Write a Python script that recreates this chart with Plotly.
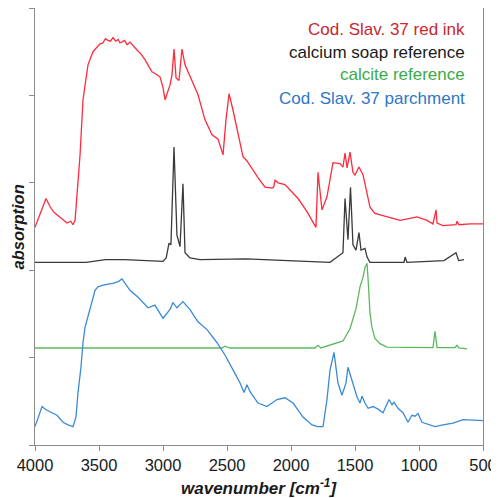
import plotly.graph_objects as go

# ---- data (wavenumber in cm-1, absorption in offset arbitrary units) ----
red_wn = [4000, 3914, 3880, 3850, 3800, 3750, 3720, 3703, 3687, 3648, 3625, 3586, 3547, 3520, 3492,
          3470, 3450, 3430, 3410, 3391, 3370, 3350, 3336, 3300, 3280, 3258, 3230, 3203, 3170, 3141,
          3110, 3086, 3050, 3023, 3000, 2984, 2945, 2930, 2914, 2898, 2875, 2852, 2828, 2789, 2727,
          2672, 2617, 2570, 2531, 2508, 2484, 2453, 2414, 2375, 2344, 2300, 2258, 2203, 2148, 2135,
          2125, 2100, 2047, 1945, 1875, 1805, 1789, 1758, 1719, 1672, 1617, 1594, 1578, 1562, 1539,
          1516, 1500, 1469, 1437, 1406, 1383, 1344, 1250, 1148, 1016, 937, 891, 867, 859, 812,
          711, 703, 688, 600, 500]
red_abs = [2.49, 2.82, 2.72, 2.66, 2.60, 2.54, 2.56, 2.52, 2.57, 3.32, 3.95, 4.35, 4.50, 4.55, 4.59,
           4.60, 4.65, 4.63, 4.62, 4.66, 4.62, 4.64, 4.60, 4.63, 4.58, 4.61, 4.57, 4.52, 4.47, 4.41,
           4.33, 4.27, 4.24, 4.21, 4.09, 3.95, 4.12, 4.23, 4.53, 4.20, 4.17, 4.53, 4.35, 4.21, 4.01,
           3.72, 3.55, 3.50, 3.32, 3.72, 4.02, 3.83, 3.55, 3.30, 3.25, 3.15, 3.06, 2.95, 2.94, 2.95,
           3.03, 3.00, 2.98, 2.82, 2.67, 2.49, 3.12, 2.69, 2.84, 3.23, 3.22, 3.18, 3.34, 3.17, 3.35,
           3.12, 3.09, 3.18, 3.09, 2.88, 2.72, 2.65, 2.61, 2.57, 2.61, 2.57, 2.53, 2.69, 2.54, 2.51,
           2.52, 2.56, 2.52, 2.53, 2.53]

soap_wn = [4000, 3600, 3450, 3300, 3000, 2975, 2953, 2938, 2914, 2891, 2867, 2844, 2828, 2789, 2711,
           2352, 1695, 1625, 1594, 1578, 1555, 1535, 1516, 1492, 1469, 1453, 1422, 1406, 1383, 1117,
           1109, 1094, 875, 805, 711, 690, 648]
soap_abs = [2.09, 2.09, 2.12, 2.12, 2.10, 2.14, 2.31, 2.29, 3.41, 2.40, 2.27, 2.99, 2.20, 2.14, 2.12,
            2.13, 2.09, 2.17, 2.20, 2.82, 2.35, 2.95, 2.29, 2.23, 2.43, 2.23, 2.25, 2.15, 2.09, 2.09,
            2.15, 2.09, 2.10, 2.11, 2.20, 2.11, 2.12]

calcite_wn = [4000, 3000, 2540, 2516, 2477, 1812, 1789, 1766, 1594, 1539, 1492, 1461, 1437, 1422, 1406,
              1395, 1383, 1367, 1344, 1305, 1250, 891, 875, 859, 719, 703, 688, 625]
calcite_abs = [1.11, 1.115, 1.11, 1.13, 1.11, 1.11, 1.14, 1.11, 1.19, 1.33, 1.56, 1.81, 1.92, 2.03, 2.08,
               1.83, 1.51, 1.34, 1.22, 1.16, 1.12, 1.115, 1.30, 1.115, 1.115, 1.14, 1.11, 1.10]

parch_wn = [4000, 3945, 3910, 3883, 3850, 3828, 3781, 3742, 3703, 3680, 3664, 3641, 3625, 3609, 3586,
            3555, 3531, 3508, 3469, 3430, 3391, 3350, 3320, 3258, 3195, 3117, 3063, 3000, 2945, 2922,
            2891, 2844, 2789, 2727, 2656, 2578, 2516, 2453, 2398, 2367, 2344, 2320, 2258, 2188, 2109,
            2047, 1984, 1906, 1836, 1789, 1750, 1719, 1695, 1664, 1633, 1602, 1570, 1555, 1523, 1484,
            1461, 1445, 1422, 1398, 1359, 1320, 1281, 1234, 1211, 1195, 1164, 1125, 1086, 1055, 1031,
            1008, 977, 953, 875, 812, 734, 656, 500]
parch_abs = [0.21, 0.44, 0.40, 0.38, 0.36, 0.34, 0.26, 0.23, 0.21, 0.32, 0.60, 0.89, 1.17, 1.35, 1.47,
             1.63, 1.77, 1.81, 1.83, 1.84, 1.85, 1.87, 1.90, 1.77, 1.69, 1.57, 1.60, 1.45, 1.55, 1.63,
             1.57, 1.64, 1.55, 1.41, 1.32, 1.17, 1.03, 0.86, 0.71, 0.60, 0.69, 0.61, 0.48, 0.44, 0.52,
             0.54, 0.48, 0.32, 0.23, 0.21, 0.21, 0.52, 0.86, 1.06, 0.71, 0.57, 0.71, 0.89, 0.74, 0.55,
             0.48, 0.56, 0.48, 0.42, 0.44, 0.41, 0.37, 0.52, 0.46, 0.49, 0.42, 0.37, 0.26, 0.34, 0.33,
             0.36, 0.26, 0.25, 0.21, 0.23, 0.25, 0.29, 0.28]

x_ticks = [4000, 3500, 3000, 2500, 2000, 1500, 1000, 500]
y_ticks = [0, 1, 2, 3, 4, 5]

labels = ["Cod. Slav. 37 red ink", "calcium soap reference", "calcite reference", "Cod. Slav. 37 parchment"]
line_colors = ["#ff2a3c", "#3a3a3a", "#5cb85c", "#3a8ad8"]
label_colors = ["#c8282d", "#1a1a1a", "#3aab48", "#2e78c6"]

series = [(red_wn, red_abs), (soap_wn, soap_abs), (calcite_wn, calcite_abs), (parch_wn, parch_abs)]

FONT = "Liberation Sans, Arial, sans-serif"

fig = go.Figure()
for (wn, ab), name, col in zip(series, labels, line_colors):
    fig.add_trace(go.Scatter(x=wn, y=ab, mode="lines", name=name,
                             line=dict(color=col, width=1.3), showlegend=False))

label_y = [0.950, 0.899, 0.847, 0.794]
for name, col, yy in zip(labels, label_colors, label_y):
    fig.add_annotation(text=name, xref="paper", yref="paper", x=0.964, y=yy,
                       xanchor="right", yanchor="middle", showarrow=False,
                       font=dict(family=FONT, size=17, color=col))

# axis titles as annotations for exact placement
fig.add_annotation(text="<b><i>wavenumber [cm<sup>-1</sup>]</i></b>", xref="paper", yref="paper",
                   x=0.5, y=-0.096, xanchor="center", yanchor="middle", showarrow=False,
                   font=dict(family=FONT, size=17, color="#1a1a1a"))
fig.add_annotation(text="<b><i>absorption</i></b>", xref="paper", yref="paper",
                   x=-0.038, y=0.5, xanchor="center", yanchor="middle", showarrow=False,
                   textangle=-90, font=dict(family=FONT, size=16.5, color="#1a1a1a"))

axis_col = "#8c8c8c"
# the page body has an 8px margin, so the figure is sized/margined to compensate
fig.update_layout(
    width=491, height=490,
    margin=dict(l=27, r=16, t=0, b=53, autoexpand=False),
    paper_bgcolor="white", plot_bgcolor="white",
    font=dict(family=FONT, color="#1a1a1a"),
    xaxis=dict(range=[4000, 500], tickvals=x_ticks, ticktext=[str(v) for v in x_ticks],
               showgrid=False, zeroline=False, showline=True, linecolor=axis_col, linewidth=1,
               mirror=True, ticks="outside", ticklen=5, tickcolor=axis_col, automargin=False,
               tickfont=dict(family=FONT, size=16.5, color="#1a1a1a")),
    yaxis=dict(range=[0, 5], tickvals=y_ticks, showticklabels=False, automargin=False,
               showgrid=False, zeroline=False, showline=True, linecolor=axis_col, linewidth=1,
               mirror=True, ticks="outside", ticklen=5, tickcolor=axis_col),
)

fig.write_html("out.html")
